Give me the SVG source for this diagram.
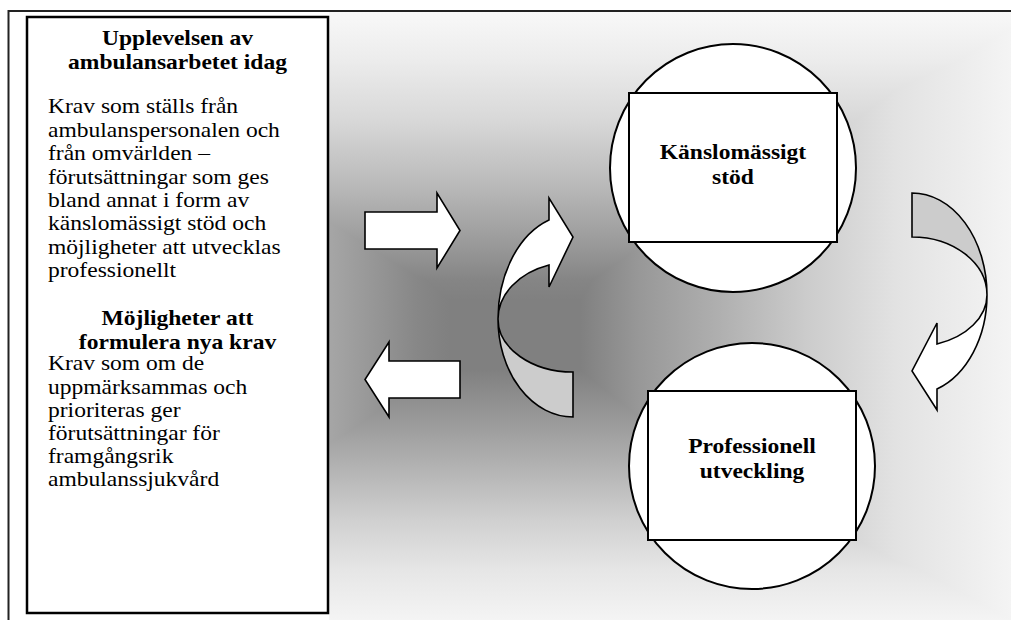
<svg xmlns="http://www.w3.org/2000/svg" width="1011" height="620" viewBox="0 0 1011 620">
  <style>
    .t { font-family: "Liberation Serif", "Times New Roman", serif; font-size: 22px; fill: #000; }
    .b { font-weight: bold; }
    .shape { fill: #fff; stroke: #000; stroke-width: 2; }
    .arrow { fill: #fff; stroke: #000; stroke-width: 1.6; stroke-linejoin: miter; }
    .back { fill: #cccccc; stroke: #000; stroke-width: 1.6; }
    .frame { fill: none; stroke: #222; stroke-width: 2; }
  </style>
  <defs>
    <linearGradient id="gh" gradientUnits="userSpaceOnUse" x1="329" y1="0" x2="1011" y2="0">
      <stop offset="0" stop-color="#a6a6a6"/>
      <stop offset="0.063" stop-color="#979797"/>
      <stop offset="0.129" stop-color="#878787"/>
      <stop offset="0.177" stop-color="#808080"/>
      <stop offset="0.368" stop-color="#808080"/>
      <stop offset="0.456" stop-color="#989898"/>
      <stop offset="0.575" stop-color="#b0b0b0"/>
      <stop offset="0.702" stop-color="#cccccc"/>
      <stop offset="0.830" stop-color="#e2e2e2"/>
      <stop offset="1" stop-color="#f4f4f4"/>
    </linearGradient>
    <linearGradient id="gv" gradientUnits="userSpaceOnUse" x1="0" y1="12" x2="0" y2="620">
      <stop offset="0" stop-color="#f8f8f8"/>
      <stop offset="0.079" stop-color="#ececec"/>
      <stop offset="0.178" stop-color="#d8d8d8"/>
      <stop offset="0.276" stop-color="#bcbcbc"/>
      <stop offset="0.375" stop-color="#9c9c9c"/>
      <stop offset="0.441" stop-color="#858585"/>
      <stop offset="0.474" stop-color="#808080"/>
      <stop offset="0.589" stop-color="#808080"/>
      <stop offset="0.671" stop-color="#999999"/>
      <stop offset="0.753" stop-color="#b4b4b4"/>
      <stop offset="0.836" stop-color="#d0d0d0"/>
      <stop offset="0.918" stop-color="#e6e6e6"/>
      <stop offset="1" stop-color="#f4f4f4"/>
    </linearGradient>
  </defs>

  <rect x="0" y="0" width="1011" height="620" fill="#fff"/>

  <g id="background" style="isolation:isolate">
    <rect x="329" y="12" width="682" height="608" fill="url(#gh)"/>
    <rect x="329" y="12" width="682" height="608" fill="url(#gv)" style="mix-blend-mode:lighten"/>
  </g>

  <g id="frame">
    <path class="frame" d="M1011,11 L8.5,11 L8.5,620"/>
  </g>

  <g id="textbox">
    <rect x="27" y="17" width="301" height="596" fill="#fff" stroke="#000" stroke-width="2.5"/>
    <g transform="translate(177.5 0) scale(1.07 1)">
      <text class="t b" x="0" y="45.5" text-anchor="middle">Upplevelsen av</text>
      <text class="t b" x="0" y="68.8" text-anchor="middle">ambulansarbetet idag</text>
      <text class="t b" x="0" y="325.5" text-anchor="middle">Möjligheter att</text>
      <text class="t b" x="0" y="348.8" text-anchor="middle">formulera nya krav</text>
    </g>
    <g transform="translate(48 0) scale(1.07 1)">
      <text class="t" x="0" y="113.5">Krav som ställs från</text>
      <text class="t" x="0" y="136.9">ambulanspersonalen och</text>
      <text class="t" x="0" y="160.3">från omvärlden –</text>
      <text class="t" x="0" y="183.7">förutsättningar som ges</text>
      <text class="t" x="0" y="207.1">bland annat i form av</text>
      <text class="t" x="0" y="230.5">känslomässigt stöd och</text>
      <text class="t" x="0" y="253.9">möjligheter att utvecklas</text>
      <text class="t" x="0" y="277.3">professionellt</text>
      <text class="t" x="0" y="370.5">Krav som om de</text>
      <text class="t" x="0" y="393.6">uppmärksammas och</text>
      <text class="t" x="0" y="416.7">prioriteras ger</text>
      <text class="t" x="0" y="439.8">förutsättningar för</text>
      <text class="t" x="0" y="462.9">framgångsrik</text>
      <text class="t" x="0" y="486">ambulanssjukvård</text>
    </g>
  </g>

  <g id="node-kanslomassigt">
    <ellipse class="shape" cx="733" cy="168" rx="123" ry="124"/>
    <rect class="shape" x="629" y="93" width="208" height="149"/>
    <g transform="translate(733 0) scale(1.07 1)">
      <text class="t b" x="0" y="159" text-anchor="middle">Känslomässigt</text>
      <text class="t b" x="0" y="184" text-anchor="middle">stöd</text>
    </g>
  </g>

  <g id="node-professionell">
    <ellipse class="shape" cx="752" cy="466" rx="123" ry="123"/>
    <rect class="shape" x="648" y="391" width="208" height="149"/>
    <g transform="translate(752 0) scale(1.07 1)">
      <text class="t b" x="0" y="453" text-anchor="middle">Professionell</text>
      <text class="t b" x="0" y="478" text-anchor="middle">utveckling</text>
    </g>
  </g>

  <g id="connectors">
    <path class="arrow" d="M365,212 L437,212 L437,193 L460,230.5 L437,268 L437,249 L365,249 Z"/>
    <path class="arrow" d="M460,361 L389,361 L389,342 L365,379.5 L389,417 L389,398 L460,398 Z"/>
    <path class="back" d="M498,319 A75 98 0 0 0 573,417 L573,372 A75 53 0 0 1 498,319 Z"/>
    <path class="arrow" d="M549,220 L549,198 L573,237 L549,287 L549,265 A75 57 0 0 0 498,319 A75 104.5 0 0 1 549,220 Z"/>
    <path class="back" d="M912,193 A75 102 0 0 1 987,295 A75 58 0 0 0 912,237 Z"/>
    <path class="arrow" d="M987,295 A75 100 0 0 1 937,389 L937,410 L912,371 L937,323 L937,344 A75 52 0 0 0 987,295 Z"/>
  </g>
</svg>
